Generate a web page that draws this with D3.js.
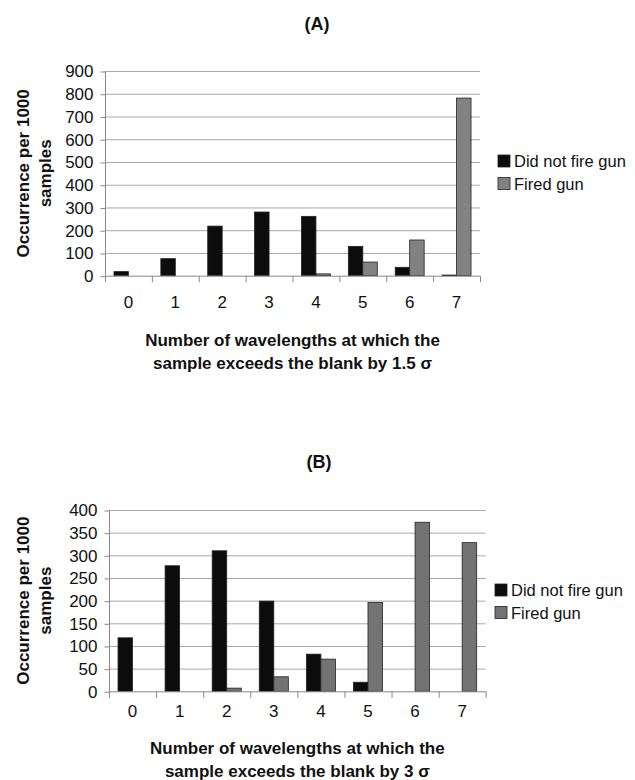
<!DOCTYPE html>
<html>
<head>
<meta charset="utf-8">
<script src="https://cdn.jsdelivr.net/npm/d3@7"></script>
<style>
  html, body { margin: 0; padding: 0; background: #fff; }
  svg { display: block; }
  text { font-family: "Liberation Sans", Arial, sans-serif; fill: #111; }
</style>
</head>
<body>
<svg id="chart" width="635" height="780"></svg>
<script>
// ---- data ----
const categories = ["0", "1", "2", "3", "4", "5", "6", "7"];
const seriesNames = ["Did not fire gun", "Fired gun"];

const panelA_didNotFire = [18, 75, 218, 280, 261, 129, 37, 3];
const panelA_fired      = [0, 0, 0, 0, 8, 60, 157, 781];
const panelA_yTicks     = [0, 100, 200, 300, 400, 500, 600, 700, 800, 900];

const panelB_didNotFire = [118, 277, 310, 199, 82, 20, 0, 0];
const panelB_fired      = [0, 0, 7, 32, 71, 196, 373, 328];
const panelB_yTicks     = [0, 50, 100, 150, 200, 250, 300, 350, 400];

const panelTitles = ["(A)", "(B)"];
const xTitlesA = ["Number of wavelengths at which the", "sample exceeds the blank by 1.5 \u03c3"];
const xTitlesB = ["Number of wavelengths at which the", "sample exceeds the blank by 3 \u03c3"];
const yTitle = ["Occurrence per 1000", "samples"];

// ---- drawing ----
const svg = d3.select("#chart");
const colors = ["#0c0c0c", "#828282"];
const colorsB = ["#0c0c0c", "#737373"];

function drawPanel(o) {
  const g = svg.append("g");
  const x = d3.scaleBand().domain(categories).range([o.left, o.right]);
  const inner = d3.scaleBand().domain(seriesNames)
    .range([0, x.bandwidth()]).paddingOuter(0.62).paddingInner(0);
  const y = d3.scaleLinear().domain([0, d3.max(o.yTicks)]).range([o.bottom, o.top]);

  // panel title
  g.append("text").attr("x", o.titleX).attr("y", o.titleY)
    .attr("text-anchor", "middle").attr("font-size", 18).attr("font-weight", "bold")
    .text(o.title);

  // gridlines
  g.append("g").selectAll("line").data(o.yTicks.filter(d => d > 0)).join("line")
    .attr("x1", o.left).attr("x2", o.right)
    .attr("y1", d => y(d) + 0.5).attr("y2", d => y(d) + 0.5)
    .attr("stroke", "#a8a8a8").attr("stroke-width", 1);

  // y axis
  const yAxis = d3.axisLeft(y).tickValues(o.yTicks).tickSize(5).tickPadding(7);
  const ya = g.append("g").attr("transform", `translate(${o.left + 0.5},0.5)`).call(yAxis);
  ya.select(".domain").attr("stroke", "#888").attr("d", `M0,${o.top}V${o.bottom}`);
  ya.selectAll(".tick line").attr("stroke", "#888");
  ya.selectAll(".tick text").attr("font-size", 17).attr("fill", "#111")
    .attr("font-family", "'Liberation Sans', Arial, sans-serif");

  // bars
  const data = categories.map((c, i) => ({ c, vals: [o.s1[i], o.s2[i]] }));
  const groups = g.append("g").selectAll("g").data(data).join("g")
    .attr("transform", d => `translate(${x(d.c)},0)`);
  groups.selectAll("rect").data(d => d.vals.map((v, k) => ({ v, k }))).join("rect")
    .attr("x", d => inner(seriesNames[d.k]))
    .attr("width", inner.bandwidth())
    .attr("y", d => y(d.v))
    .attr("height", d => Math.max(0, o.bottom - y(d.v)))
    .attr("fill", d => o.colors[d.k])
    .attr("stroke", d => d.v > 0 ? "#222" : "none")
    .attr("stroke-width", 0.8);

  // x axis
  const xa = g.append("g").attr("transform", `translate(0,${o.bottom + 0.5})`);
  xa.append("line").attr("x1", o.left).attr("x2", o.right + 0.5).attr("stroke", "#888");
  const bounds = categories.map(c => x(c)).concat([o.right]);
  xa.selectAll("line.tk").data(bounds).join("line").attr("class", "tk")
    .attr("x1", d => d + 0.5).attr("x2", d => d + 0.5).attr("y1", 0).attr("y2", 6)
    .attr("stroke", "#888");
  xa.selectAll("text").data(categories).join("text")
    .attr("x", d => x(d) + x.bandwidth() / 2).attr("y", o.tickLabelDy)
    .attr("text-anchor", "middle").attr("font-size", 17).text(d => d);

  // x title
  g.append("g").selectAll("text").data(o.xTitle).join("text")
    .attr("x", (o.left + o.right) / 2).attr("y", (d, i) => o.xTitleY + i * 23)
    .attr("text-anchor", "middle").attr("font-size", 17).attr("font-weight", "bold")
    .text(d => d);

  // y title
  const cy = (o.top + o.bottom) / 2;
  g.append("g").selectAll("text").data(yTitle).join("text")
    .attr("transform", (d, i) => `translate(${o.yTitleX + i * 22},${cy}) rotate(-90)`)
    .attr("text-anchor", "middle").attr("font-size", 17).attr("font-weight", "bold")
    .text(d => d);

  // legend
  const lg = g.append("g").selectAll("g").data(seriesNames).join("g")
    .attr("transform", (d, i) => `translate(${o.legendX},${o.legendY + i * 22.5})`);
  lg.append("rect").attr("x", 0).attr("y", -6).attr("width", 12).attr("height", 12)
    .attr("fill", (d, i) => o.colors[i]).attr("stroke", "#222").attr("stroke-width", 0.8);
  lg.append("text").attr("x", 16).attr("y", 6).attr("font-size", 16.5).text(d => d);
}

drawPanel({
  title: panelTitles[0], titleX: 317, titleY: 30,
  left: 105, right: 480, top: 71, bottom: 275.7,
  yTicks: panelA_yTicks, s1: panelA_didNotFire, s2: panelA_fired, colors: colors,
  tickLabelDy: 32, xTitle: xTitlesA, xTitleY: 346, yTitleX: 29,
  legendX: 498, legendY: 161
});

drawPanel({
  title: panelTitles[1], titleX: 319, titleY: 468,
  left: 109, right: 485.7, top: 510, bottom: 691.3,
  yTicks: panelB_yTicks, s1: panelB_didNotFire, s2: panelB_fired, colors: colorsB,
  tickLabelDy: 25, xTitle: xTitlesB, xTitleY: 754, yTitleX: 29,
  legendX: 495, legendY: 590
});
</script>
</body>
</html>
